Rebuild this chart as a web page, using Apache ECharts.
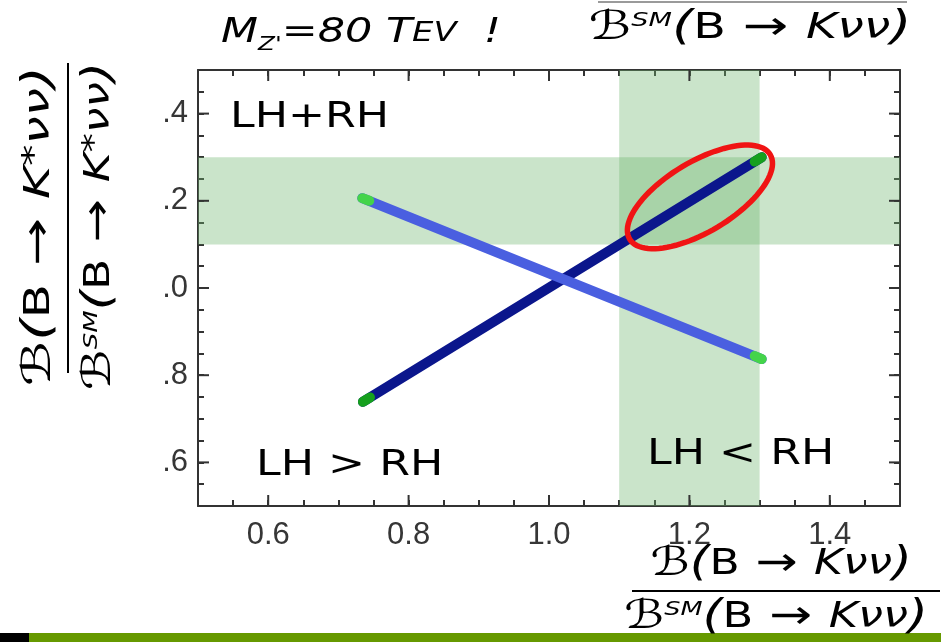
<!DOCTYPE html>
<html><head><meta charset="utf-8">
<script src="https://cdn.jsdelivr.net/npm/echarts@6/dist/echarts.min.js"></script>
<style>html,body{margin:0;padding:0;background:#fff}#c{width:941px;height:642px}</style>
</head><body><div id="c"></div>
<script>
// ---- data ----
const xMajorTicks = [0.6, 0.8, 1.0, 1.2, 1.4];
const xTickLabels = ['0.6', '0.8', '1.0', '1.2', '1.4'];
const yMajorTicks = [0.6, 0.8, 1.0, 1.2, 1.4];
const yTickLabels = ['.6', '.8', '.0', '.2', '.4'];   // leading digit hidden in the reference
const darkLine  = [[0.735, 0.739], [1.303, 1.300]];   // dark blue
const lightLine = [[0.734, 1.206], [1.303, 0.837]];   // light blue
const darkTipA  = [[0.735, 0.739], [0.745, 0.749]];
const darkTipB  = [[1.293, 1.290], [1.303, 1.300]];
const lightTipA = [[0.734, 1.206], [0.744, 1.200]];
const lightTipB = [[1.293, 0.844], [1.303, 0.837]];
const xBand = [1.1, 1.3];
const yBand = [1.1, 1.3];
const ellipseCenter = [[1.215, 1.209]];

const chart = echarts.init(document.getElementById('c'), null, {renderer: 'canvas'});
const frame = '#333';
const mathFont = "'DejaVu Sans', 'Noto Sans', sans-serif";

function pick(ticks, labels) {
  return function (v) {
    const i = ticks.findIndex(t => Math.abs(t - v) < 1e-6);
    return i >= 0 ? labels[i] : '';
  };
}
function axisCommon(extra) {
  return Object.assign({
    type: 'value', min: 0.5, max: 1.5, interval: 0.05,
    axisLine: {show: true, onZero: false, lineStyle: {color: frame, width: 2}},
    axisTick: {show: true, inside: true, length: 6, lineStyle: {color: frame, width: 2}},
    splitLine: {show: false}
  }, extra);
}
const labelStyle = {color: '#363636', fontSize: 31, fontFamily: "'Liberation Sans', Arial, sans-serif"};

function lineSeries(data, color, width, z) {
  return {type: 'line', data: data, symbol: 'none', silent: true, z: z,
    lineStyle: {color: color, width: width, cap: 'round'}, xAxisIndex: 0, yAxisIndex: 0};
}
function majorTickSeries(ticks, isX) {
  return {
    type: 'custom', silent: true, z: 6, xAxisIndex: 0, yAxisIndex: 0,
    data: ticks.map(v => isX ? [v, 1.0] : [1.0, v]),
    renderItem: function (params, api) {
      const cs = params.coordSys;
      const p = api.coord([api.value(0), api.value(1)]);
      const st = {stroke: frame, lineWidth: 2};
      const L = 11;
      if (isX) {
        return {type: 'group', children: [
          {type: 'line', shape: {x1: p[0], y1: cs.y + cs.height, x2: p[0], y2: cs.y + cs.height - L}, style: st},
          {type: 'line', shape: {x1: p[0], y1: cs.y, x2: p[0], y2: cs.y + L}, style: st}
        ]};
      }
      return {type: 'group', children: [
        {type: 'line', shape: {x1: cs.x, y1: p[1], x2: cs.x + L, y2: p[1]}, style: st},
        {type: 'line', shape: {x1: cs.x + cs.width, y1: p[1], x2: cs.x + cs.width - L, y2: p[1]}, style: st}
      ]};
    }
  };
}

const richMath = {
  s:   {fontSize: 40, fontFamily: mathFont, fill: '#000'},
  sup: {fontSize: 20, fontFamily: mathFont, fontStyle: 'italic', fill: '#000', padding: [0, 0, 16, 0]},
  p:   {fontSize: 40, fontFamily: mathFont, fontStyle: 'italic', fill: '#000'},
  b:   {fontSize: 35, fontFamily: mathFont, fill: '#000'},
  a:   {fontSize: 40, fontFamily: mathFont, fill: '#000'},
  k:   {fontSize: 35, fontFamily: mathFont, fontStyle: 'italic', fill: '#000'},
  st:  {fontSize: 30, fontFamily: mathFont, fill: '#000', padding: [0, 0, 10, 0]},
  n:   {fontSize: 35, fontFamily: mathFont, fontStyle: 'italic', fill: '#000'}
};
function mathText(str, x, y, sx, rot) {
  return {type: 'text', x: x, y: y, scaleX: sx, rotation: rot || 0, z: 20,
    style: {text: str, rich: richMath, align: 'center', verticalAlign: 'middle', fill: '#000'}};
}
function plainText(str, x, y) {
  return {type: 'text', x: x, y: y, scaleX: 1.23, z: 20,
    style: {text: str, fontSize: 36, fontFamily: mathFont, fill: '#000', align: 'left', verticalAlign: 'middle'}};
}
const numK  = '{s|ℬ}{p|(}{b|B}{a| → }{k|K}{n|νν}{p|)}';
const denK  = '{s|ℬ}{sup|SM}{p|(}{b|B}{a| → }{k|K}{n|νν}{p|)}';
const numKs = '{s|ℬ}{p|(}{b|B}{a| → }{k|K}{st|*}{n|νν}{p|)}';
const denKs = '{s|ℬ}{sup|SM}{p|(}{b|B}{a| → }{k|K}{st|*}{n|νν}{p|)}';

const option = {
  animation: false,
  backgroundColor: '#fff',
  grid: {left: 198, top: 70, width: 702, height: 436, containLabel: false},
  xAxis: [
    axisCommon({position: 'bottom', axisLabel: Object.assign({formatter: pick(xMajorTicks, xTickLabels), margin: 14}, labelStyle)}),
    axisCommon({position: 'top', axisLabel: {show: false}})
  ],
  yAxis: [
    axisCommon({position: 'left', axisLabel: Object.assign({formatter: pick(yMajorTicks, yTickLabels), margin: 10}, labelStyle)}),
    axisCommon({position: 'right', axisLabel: {show: false}})
  ],
  series: [
    {
      type: 'line', data: [], silent: true, z: 1, xAxisIndex: 0, yAxisIndex: 0,
      markArea: {
        silent: true,
        itemStyle: {color: 'rgba(110,182,110,0.37)'},
        data: [
          [{xAxis: xBand[0]}, {xAxis: xBand[1]}],
          [{yAxis: yBand[0]}, {yAxis: yBand[1]}]
        ]
      }
    },
    lineSeries(darkLine, '#0b168c', 10, 3),
    lineSeries(lightLine, '#4a5fe0', 10, 4),
    lineSeries(darkTipA, '#16a01e', 10, 5),
    lineSeries(darkTipB, '#16a01e', 10, 5),
    lineSeries(lightTipA, '#44d44a', 10, 5),
    lineSeries(lightTipB, '#44d44a', 10, 5),
    majorTickSeries(xMajorTicks, true),
    majorTickSeries(yMajorTicks, false),
    {
      type: 'custom', silent: true, z: 8, xAxisIndex: 0, yAxisIndex: 0, clip: false,
      data: ellipseCenter,
      renderItem: function (params, api) {
        const c = api.coord([api.value(0), api.value(1)]);
        const rx = 82, ry = 35, th = 31 * Math.PI / 180;
        const pts = [];
        for (let i = 0; i < 96; i++) {
          const t = i / 96 * Math.PI * 2;
          const ex = rx * Math.cos(t), ey = ry * Math.sin(t);
          pts.push([c[0] + ex * Math.cos(th) + ey * Math.sin(th), c[1] - ex * Math.sin(th) + ey * Math.cos(th)]);
        }
        return {type: 'polygon', shape: {points: pts}, style: {fill: 'none', stroke: '#f01414', lineWidth: 5.5}};
      }
    }
  ],
  graphic: [
    // title
    {type: 'text', x: 221, y: 33, scaleX: 1.3, z: 20,
      style: {text: "{m|M}{z|Z'}{m|=80 T}{sc|EV}{m|  !}", align: 'left', verticalAlign: 'middle', fill: '#000',
        rich: {
          m:  {fontSize: 33, fontFamily: mathFont, fontStyle: 'italic', fill: '#000'},
          z:  {fontSize: 19, fontFamily: mathFont, fontStyle: 'italic', fill: '#000', padding: [24, 0, 0, 0]},
          sc: {fontSize: 26, fontFamily: mathFont, fontStyle: 'italic', fill: '#000', padding: [3, 0, 0, 0]}
        }}},
    // top-right denominator with its bar
    {type: 'line', shape: {x1: 598, y1: 2, x2: 907, y2: 2}, style: {stroke: '#9a9a9a', lineWidth: 2}, z: 20},
    mathText(denK, 750, 29, 1.36),
    // region labels
    plainText('LH+RH', 230, 118),
    plainText('LH > RH', 256, 466),
    plainText('LH < RH', 647, 455),
    // y-axis title (rotated fraction)
    mathText(numKs, 40, 226, 1.44, Math.PI / 2),
    {type: 'line', shape: {x1: 68, y1: 63, x2: 68, y2: 373}, style: {stroke: '#000', lineWidth: 2}, z: 20},
    mathText(denKs, 100, 226, 1.3, Math.PI / 2),
    // bottom strip
    {type: 'rect', shape: {x: 0, y: 633, width: 29, height: 9}, style: {fill: '#000'}, z: 10},
    {type: 'rect', shape: {x: 29, y: 633, width: 912, height: 9}, style: {fill: '#669900'}, z: 10},
    // x-axis title (fraction)
    mathText(numK, 781, 565, 1.26),
    {type: 'line', shape: {x1: 632, y1: 591, x2: 940, y2: 591}, style: {stroke: '#000', lineWidth: 2}, z: 20},
    mathText(denK, 776, 618, 1.28)
  ]
};
chart.setOption(option);
</script>
</body></html>
